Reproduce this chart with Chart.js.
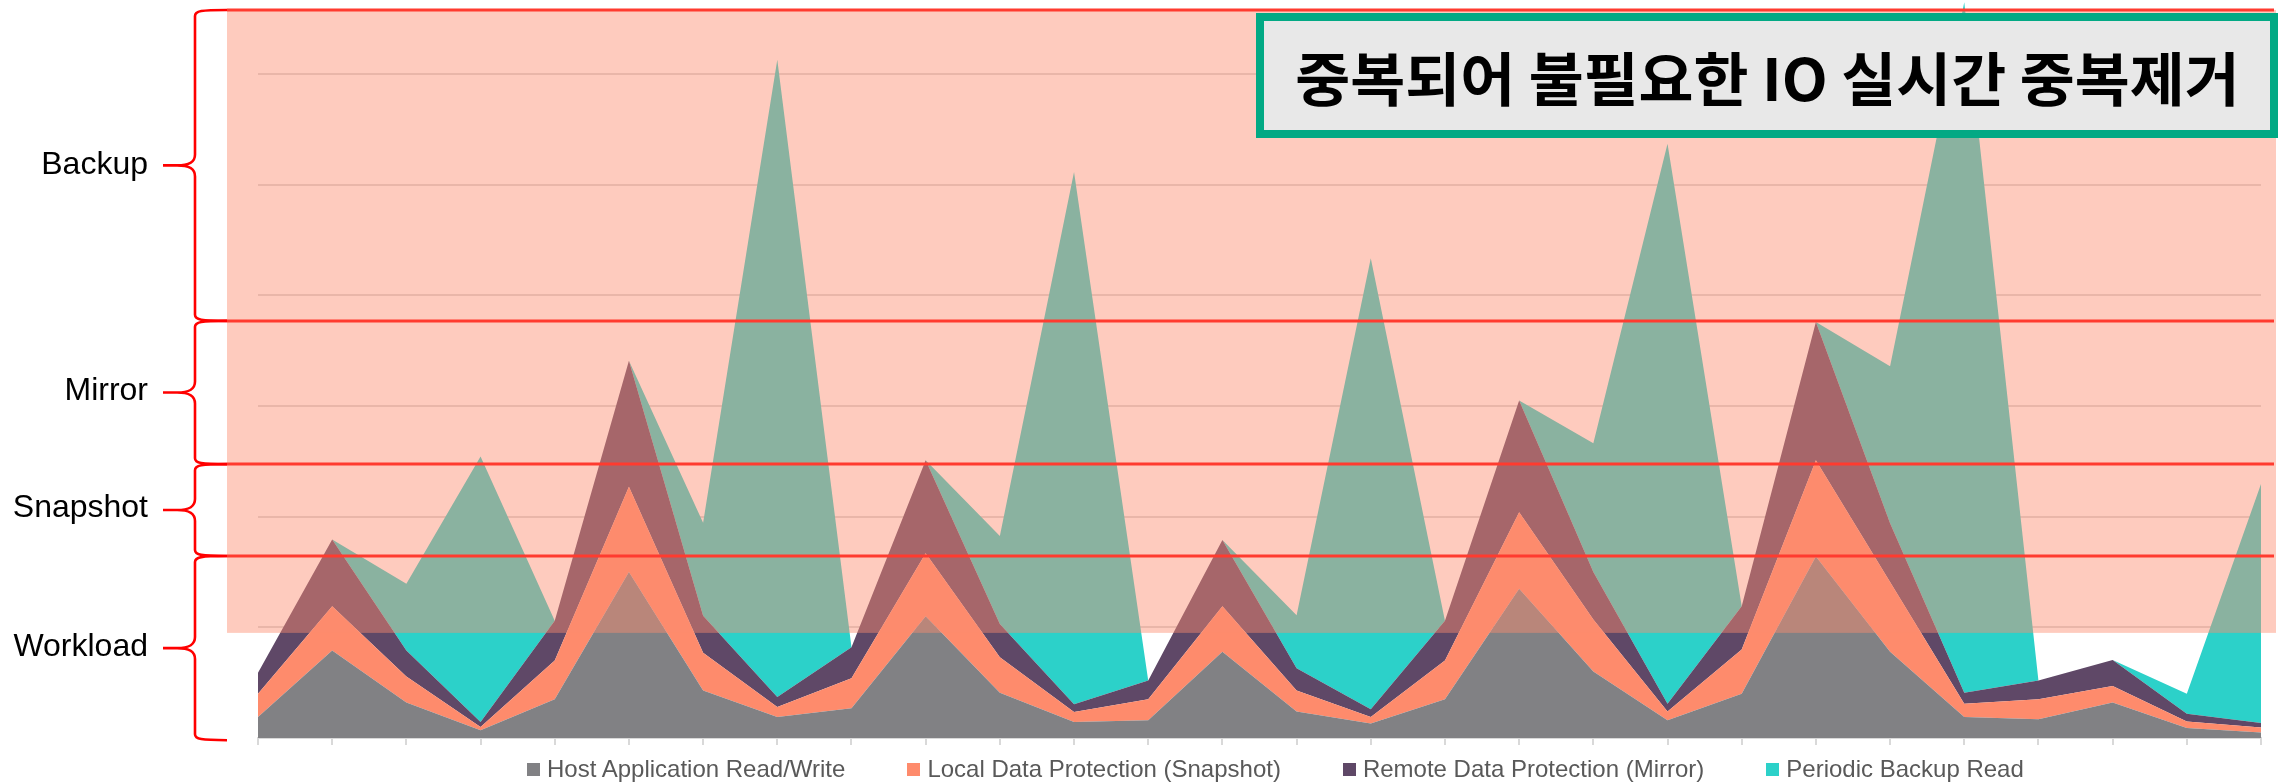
<!DOCTYPE html>
<html>
<head>
<meta charset="utf-8">
<script src="https://cdn.jsdelivr.net/npm/chart.js@4.4.1/dist/chart.umd.min.js"></script>
<style>
  body { margin: 0; background: #fff; }
  #wrap { position: relative; width: 2292px; height: 783px; overflow: hidden; font-family: "Liberation Sans", Arial, sans-serif; }
  #chartBox { position: absolute; left: 0; top: 0; width: 2292px; height: 783px; }
  .band { position: absolute; left: 0; width: 148px; text-align: right; font-size: 32px; line-height: 32px; color: #000; }
  #title { position: absolute; left: 1256px; top: 13px; width: 1022px; height: 125px; box-sizing: border-box;
           border: 8px solid #02a984; background: #e8e8e8; display: flex; align-items: center; justify-content: center; }
  #titleText { display: inline-block; font-family: "Noto Sans CJK KR", sans-serif; font-weight: 700; font-size: 58px;
               line-height: 58px; color: #000; white-space: nowrap; transform-origin: center; }
  #legend { position: absolute; left: 527px; top: 757px; display: flex; gap: 62px; font-size: 24px; line-height: 24px; color: #595959; }
  .item { display: flex; align-items: center; white-space: nowrap; }
  .swatch { width: 13px; height: 13px; margin-right: 7px; }
</style>
</head>
<body>
<div id="wrap">
  <div id="chartBox"><canvas id="ioChart"></canvas></div>
  <div class="band" style="top:147px">Backup</div>
  <div class="band" style="top:373px">Mirror</div>
  <div class="band" style="top:490px">Snapshot</div>
  <div class="band" style="top:629px">Workload</div>
  <div id="title"><span id="titleText">중복되어 불필요한 IO 실시간 중복제거</span></div>
  <div id="legend"></div>
</div>
<script>
// time slots along the x axis (no labels are shown)
const periods = ['T1', 'T2', 'T3', 'T4', 'T5', 'T6', 'T7', 'T8', 'T9', 'T10', 'T11', 'T12', 'T13', 'T14',
                 'T15', 'T16', 'T17', 'T18', 'T19', 'T20', 'T21', 'T22', 'T23', 'T24', 'T25', 'T26', 'T27', 'T28'];

// stacked IO values
const hostRW     = [1.9, 7.9, 3.2, 0.7, 3.5, 15.0, 4.3, 1.9, 2.7, 11.0, 4.1, 1.45, 1.6, 7.8,
                    2.4, 1.3, 3.5, 13.5, 6.0, 1.6, 4.0, 16.4, 7.8, 1.9, 1.7, 3.2, 0.9, 0.5];
const snapshot   = [2.1, 4.0, 2.35, 0.3, 3.5, 7.7, 3.4, 0.9, 2.7, 5.7, 3.2, 0.9, 1.9, 4.1,
                    1.9, 0.6, 3.5, 6.9, 4.7, 0.8, 4.0, 8.7, 6.3, 1.2, 1.8, 1.5, 0.6, 0.45];
const mirror     = [1.9, 6.05, 2.35, 0.45, 3.6, 11.4, 3.35, 0.9, 2.8, 8.4, 3.0, 0.7, 1.7, 6.0,
                    2.0, 0.7, 3.6, 10.1, 4.3, 0.7, 3.9, 12.5, 5.3, 1.0, 1.7, 2.35, 0.7, 0.4];
const backupRead = [0, 0, 6.05, 24.0, 0, 0, 8.4, 57.6, 0, 0, 7.95, 48.1, 0, 0,
                    4.8, 40.75, 0, 0, 11.65, 50.6, 0, 0, 14.2, 62.4, 0, 0, 1.8, 21.6];

// band edges (Backup / Mirror / Snapshot / Workload) in value units, and the bottom of the shaded zone
const bandEdges = [65.8, 37.7, 24.75, 16.45, -0.2];
const shadeBottom = 9.5;

function drawBrace(ctx, xEnd, xMid, xTip, y0, y1) {
    const ym = (y0 + y1) / 2;
    ctx.beginPath();
    ctx.moveTo(xEnd, y0);
    ctx.bezierCurveTo(xMid + 6, y0, xMid, y0 + 1, xMid, y0 + 6);
    ctx.lineTo(xMid, ym - 11);
    ctx.bezierCurveTo(xMid, ym - 3, xMid - 6, ym, xTip + 14, ym);
    ctx.lineTo(xTip, ym);
    ctx.moveTo(xTip + 14, ym);
    ctx.bezierCurveTo(xMid - 6, ym, xMid, ym + 3, xMid, ym + 11);
    ctx.lineTo(xMid, y1 - 6);
    ctx.bezierCurveTo(xMid, y1 - 1, xMid + 6, y1, xEnd, y1);
    ctx.stroke();
}

const bandsPlugin = {
    id: 'bands',
    afterDatasetsDraw(chart) {
        const ctx = chart.ctx;
        const y = chart.scales.y;
        const top = y.getPixelForValue(bandEdges[0]);
        const bottom = y.getPixelForValue(shadeBottom);
        ctx.save();
        ctx.fillStyle = 'rgba(253, 139, 111, 0.45)';
        ctx.fillRect(227, top, 2276 - 227, bottom - top);

        ctx.strokeStyle = '#ff3b2f';
        ctx.lineWidth = 3;
        for (let i = 0; i < 4; i++) {
            const py = Math.round(y.getPixelForValue(bandEdges[i]));
            ctx.beginPath();
            ctx.moveTo(227, py);
            ctx.lineTo(2274, py);
            ctx.stroke();
        }

        ctx.strokeStyle = '#ff0000';
        ctx.lineWidth = 2.6;
        for (let i = 0; i < 4; i++) {
            drawBrace(ctx, 227, 195, 163, y.getPixelForValue(bandEdges[i]), y.getPixelForValue(bandEdges[i + 1]));
        }
        ctx.restore();
    }
};

const ctx = document.getElementById('ioChart').getContext('2d');
const ioChart = new Chart(ctx, {
    type: 'line',
    data: {
        labels: periods,
        datasets: [
            { label: 'Host Application Read/Write', data: hostRW, backgroundColor: '#818184', fill: 'origin' },
            { label: 'Local Data Protection (Snapshot)', data: snapshot, backgroundColor: '#fe8b6c', fill: '-1' },
            { label: 'Remote Data Protection (Mirror)', data: mirror, backgroundColor: '#5f4867', fill: '-1' },
            { label: 'Periodic Backup Read', data: backupRead, backgroundColor: '#2cd1c9', fill: '-1' }
        ]
    },
    options: {
        responsive: true,
        maintainAspectRatio: false,
        animation: false,
        elements: {
            line: { borderWidth: 0, borderColor: 'rgba(0,0,0,0)', tension: 0 },
            point: { radius: 0, hoverRadius: 0 }
        },
        layout: { padding: { left: 258, right: 31, top: 0, bottom: 38 } },
        scales: {
            x: {
                grid: { drawOnChartArea: false, color: '#d9d9d9', lineWidth: 2, tickLength: 7 },
                border: { color: '#d9d9d9', width: 2 },
                ticks: { display: false }
            },
            y: {
                stacked: true,
                min: 0,
                max: 66.7,
                grid: { color: '#d9d9d9', lineWidth: 2, drawTicks: false },
                border: { display: false },
                ticks: { display: false, stepSize: 10, includeBounds: false }
            }
        },
        plugins: {
            legend: { display: false },
            tooltip: { enabled: false }
        }
    },
    plugins: [bandsPlugin]
});

// legend below the plot, built from the chart's datasets
const legendBox = document.getElementById('legend');
ioChart.data.datasets.forEach(ds => {
    const item = document.createElement('div');
    item.className = 'item';
    const sw = document.createElement('span');
    sw.className = 'swatch';
    sw.style.background = ds.backgroundColor;
    const txt = document.createElement('span');
    txt.textContent = ds.label;
    item.appendChild(sw);
    item.appendChild(txt);
    legendBox.appendChild(item);
});

// the title is set in a condensed face; squeeze it to the reference width
const titleText = document.getElementById('titleText');
const w = titleText.getBoundingClientRect().width;
titleText.style.transform = 'scaleX(' + (944 / w).toFixed(3) + ')';
</script>
</body>
</html>
